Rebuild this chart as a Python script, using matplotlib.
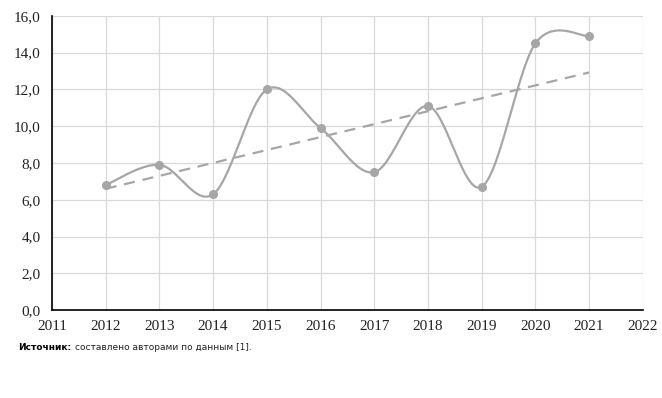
import numpy as np
import matplotlib
matplotlib.use("Agg")
import matplotlib.pyplot as plt
from matplotlib.ticker import FuncFormatter

# data
years = [2012, 2013, 2014, 2015, 2016, 2017, 2018, 2019, 2020, 2021]
values = [6.8, 7.9, 6.3, 12.0, 9.9, 7.5, 11.1, 6.7, 14.5, 14.9]

lineColor = "#A6A6A6"
gridColor = "#D9D9D9"


def smoothCurve(xs, ys, n=30):
    # excel-like smoothing (catmull-rom as cubic bezier)
    xs = np.asarray(xs, float)
    ys = np.asarray(ys, float)
    outX, outY = [xs[0]], [ys[0]]
    t = np.linspace(0, 1, n)[1:]
    for i in range(len(xs) - 1):
        i0 = max(i - 1, 0)
        i3 = min(i + 2, len(xs) - 1)
        p0 = np.array([xs[i], ys[i]])
        p3 = np.array([xs[i + 1], ys[i + 1]])
        c1 = p0 + (p3 - np.array([xs[i0], ys[i0]])) / 6.0
        c2 = p3 - (np.array([xs[i3], ys[i3]]) - p0) / 6.0
        for tt in t:
            pt = ((1 - tt) ** 3) * p0 + 3 * ((1 - tt) ** 2) * tt * c1 + 3 * (1 - tt) * tt ** 2 * c2 + tt ** 3 * p3
            outX.append(pt[0])
            outY.append(pt[1])
    return outX, outY


fig = plt.figure(figsize=(6.62, 3.98), dpi=100)
ax = fig.add_axes([0.0785, 0.221, 0.8925, 0.739])

sx, sy = smoothCurve(years, values)
ax.plot(sx, sy, color=lineColor, linewidth=1.6, zorder=3)
ax.plot(years, values, linestyle="none", marker="o", markersize=5.5,
        color=lineColor, zorder=4)

# linear trend
k, b = np.polyfit(years, values, 1)
tx = np.array([years[0], years[-1]])
ax.plot(tx, k * tx + b, color=lineColor, linewidth=1.6, dashes=(5, 3.5), zorder=2)

ax.set_xlim(2011, 2022)
ax.set_ylim(0, 16)
ax.set_xticks(range(2011, 2023))
ax.set_yticks(np.arange(0, 17, 2))
ax.yaxis.set_major_formatter(FuncFormatter(lambda v, p: ("%.1f" % v).replace(".", ",")))
ax.grid(True, color=gridColor, linewidth=0.9)
ax.set_axisbelow(True)
ax.tick_params(axis="y", length=0, labelsize=11, pad=8)
ax.tick_params(axis="x", length=0, labelsize=11, pad=7)
for lab in ax.get_xticklabels() + ax.get_yticklabels():
    lab.set_fontfamily("Liberation Serif")
    lab.set_color("#222222")

ax.spines["top"].set_visible(False)
ax.spines["right"].set_visible(False)
ax.spines["left"].set_color("black")
ax.spines["bottom"].set_color("black")
ax.spines["left"].set_linewidth(1.2)
ax.spines["bottom"].set_linewidth(1.2)

t1 = fig.text(18 / 662, 1 - 347 / 398, "Источник:", fontsize=6.5, fontweight="bold",
              family="DejaVu Sans", va="center", ha="left")
fig.canvas.draw()
bb = t1.get_window_extent()
fig.text((bb.x1 + 4) / 662, 1 - 347 / 398, "составлено авторами по данным [1].",
         fontsize=6.5, family="DejaVu Sans", va="center", ha="left", color="#222222")

fig.savefig("out.png", dpi=100)
